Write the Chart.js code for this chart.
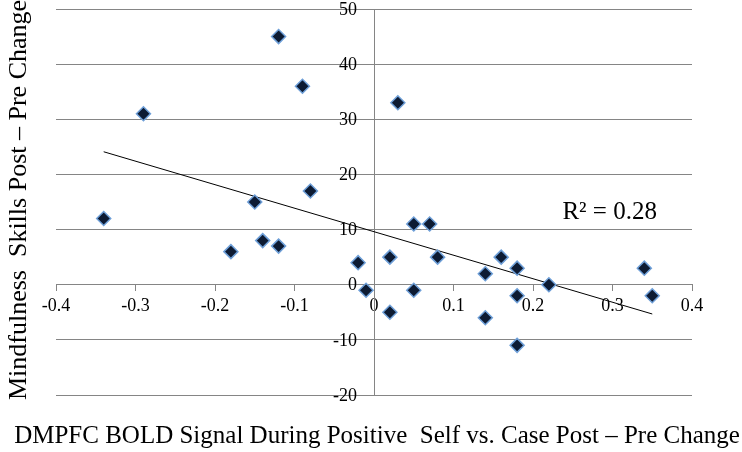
<!DOCTYPE html>
<html>
<head>
<meta charset="utf-8">
<script src="https://cdn.jsdelivr.net/npm/chart.js@4/dist/chart.umd.min.js"></script>
<style>
  html, body { margin: 0; padding: 0; background: #fff; }
  #wrap { width: 742px; height: 452px; }
</style>
</head>
<body>
<div id="wrap"><canvas id="chart" width="742" height="452"></canvas></div>
<script>
// values
const xValues = [-0.34, -0.29, -0.18, -0.15, -0.14, -0.12, -0.12, -0.09, -0.08, -0.02, -0.01,
                 0.02, 0.02, 0.03, 0.05, 0.05, 0.07, 0.08, 0.14, 0.14, 0.16, 0.18, 0.18, 0.18, 0.22, 0.34, 0.35];
const yValues = [12, 31, 6, 15, 8, 7, 45, 36, 17, 4, -1,
                 5, -5, 33, 11, -1, 11, 5, 2, -6, 5, 3, -2, -11, 0, 3, -2];
const xTicks = [-0.4, -0.3, -0.2, -0.1, 0, 0.1, 0.2, 0.3, 0.4];
const yTicks = [-20, -10, 0, 10, 20, 30, 40, 50];
const xTitle = 'DMPFC BOLD Signal During Positive  Self vs. Case Post \u2013 Pre Change';
const yTitle = 'Mindfulness  Skills Post \u2013 Pre Change';
const r2Label = 'R\u00b2 = 0.28';

const points = xValues.map((x, i) => ({ x: x, y: yValues[i] }));

// least squares trend line through the points
function trendLine(xs, ys) {
    const n = xs.length;
    const mx = xs.reduce((a, b) => a + b, 0) / n;
    const my = ys.reduce((a, b) => a + b, 0) / n;
    let sxy = 0, sxx = 0;
    for (let i = 0; i < n; i++) {
        sxy += (xs[i] - mx) * (ys[i] - my);
        sxx += (xs[i] - mx) * (xs[i] - mx);
    }
    const slope = sxy / sxx;
    const x0 = Math.min(...xs), x1 = Math.max(...xs);
    return [
        { x: x0, y: my + slope * (x0 - mx) },
        { x: x1, y: my + slope * (x1 - mx) }
    ];
}

const serif = '"Liberation Serif", "Times New Roman", serif';
const gridColor = '#858585';

// y tick labels sit left of the centred axis, titles go at the canvas edges
const titlesPlugin = {
    id: 'titles',
    afterDraw(chart) {
        const ctx = chart.ctx;
        const sx = chart.scales.x, sy = chart.scales.y;
        ctx.save();
        ctx.fillStyle = '#000';

        ctx.font = '18px ' + serif;
        ctx.textAlign = 'right';
        ctx.textBaseline = 'middle';
        const axisX = sx.getPixelForValue(0);
        yTicks.forEach(v => ctx.fillText(String(v), axisX - 17, sy.getPixelForValue(v) + 1));

        ctx.textBaseline = 'alphabetic';
        ctx.font = '25px ' + serif;
        ctx.textAlign = 'left';
        ctx.fillText(r2Label, sx.getPixelForValue(0.237), sy.getPixelForValue(12.0));

        ctx.textAlign = 'center';
        ctx.fillText(xTitle, 377, 443);

        ctx.font = '26px ' + serif;
        ctx.translate(26, 200);
        ctx.rotate(-Math.PI / 2);
        ctx.fillText(yTitle, 0, 0);
        ctx.restore();
    }
};

new Chart(document.getElementById('chart'), {
    type: 'scatter',
    data: {
        datasets: [
            {
                data: points,
                pointStyle: 'rectRot',
                pointRadius: 7,
                pointHoverRadius: 7,
                pointBorderWidth: 1.5,
                backgroundColor: '#0d1b33',
                borderColor: '#6e9fd8'
            },
            {
                type: 'line',
                data: trendLine(xValues, yValues),
                borderColor: '#000',
                borderWidth: 1,
                pointRadius: 0,
                fill: false
            }
        ]
    },
    options: {
        responsive: false,
        animation: false,
        events: [],
        layout: { padding: { left: 56, right: 50, top: 9, bottom: 57 } },
        plugins: {
            legend: { display: false },
            tooltip: { enabled: false }
        },
        scales: {
            x: {
                type: 'linear',
                position: { y: 0 },
                min: -0.4,
                max: 0.4,
                afterBuildTicks: (scale) => { scale.ticks = xTicks.map(v => ({ value: v })); },
                grid: { drawOnChartArea: false, drawTicks: true, tickLength: 6, color: gridColor },
                border: { display: true, color: gridColor },
                ticks: { autoSkip: false, maxRotation: 0, padding: 5, color: '#000', font: { family: serif, size: 18 } }
            },
            y: {
                type: 'linear',
                position: { x: 0 },
                min: -20,
                max: 50,
                afterBuildTicks: (scale) => { scale.ticks = yTicks.map(v => ({ value: v })); },
                grid: { color: gridColor, drawTicks: true, tickLength: 8 },
                border: { display: true, color: gridColor },
                ticks: { display: false }
            }
        }
    },
    plugins: [titlesPlugin]
});
</script>
</body>
</html>
